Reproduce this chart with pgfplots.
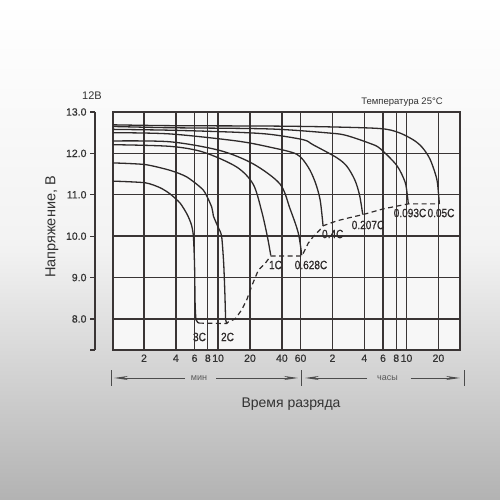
\documentclass[border=0pt]{standalone}
\usepackage{pgfplots}
\pgfplotsset{compat=1.18}
\usepackage{fontspec}
\setmainfont{Liberation Sans}
\newfontfamily\narrow[FakeStretch=0.84, FakeBold=0.7]{Liberation Sans}
\newfontfamily\tickf[FakeBold=0.5]{Liberation Sans}
\usetikzlibrary{arrows.meta}
\definecolor{ink}{HTML}{2E2A2A}
\definecolor{gridc}{HTML}{3A3535}
\definecolor{txt}{HTML}{333333}
\begin{document}
\begin{tikzpicture}[x=1pt,y=1pt]
\useasboundingbox (0,0) rectangle (500,500);
\shade[top color=white, bottom color=black!30, middle color=black!5] (0,0) rectangle (500,500);
% main axis
\begin{axis}[
  at={(113pt,150pt)}, anchor=south west, scale only axis,
  width=347pt, height=238pt,
  xmode=log, log basis x=10,
  xmin=1.02, xmax=1919, ymin=7.25, ymax=13,
  xtick={2,4,6,8,10,20,40,60,120,240,360,480,600,1200},
  xticklabels={2,4,6,8,10,20,40,60,2,4,6,8,10,20},
  ytick={8,9,10,11,12,13}, yticklabels={},
  minor xtick={}, minor ytick={},
  grid=major,
  major grid style={gridc, line width=1.4pt},
  axis line style={gridc, line width=1.4pt},
  tick style={draw=none},
  /pgf/number format/assume math mode=true,
  x tick label style={font=\tickf\fontsize{10.5}{12}\selectfont, text=txt, yshift=-1pt},
  axis background/.style={fill=black!3},
  clip=false,
]
% 0.05C
\addplot[ink, line width=1.3pt, smooth, tension=0.5] coordinates {
(1.02,12.69)(3.53,12.67)(30.9,12.66)(114,12.64)(337,12.60)(499,12.51)(692,12.33)(841,12.15)(1000,11.86)(1156,11.39)(1205,11.0)(1225,10.78)};
% 0.093C
\addplot[ink, line width=1.3pt, smooth, tension=0.5] coordinates {
(1.02,12.65)(3.53,12.62)(30.9,12.59)(114,12.49)(164,12.43)(272,12.24)(337,12.12)(485,11.71)(581,11.31)(610,11.0)(624,10.78)};
% 0.207C
\addplot[ink, line width=1.3pt, smooth, tension=0.5] coordinates {
(1.02,12.58)(3.53,12.56)(15,12.51)(30.9,12.46)(63.7,12.33)(78.6,12.21)(131,11.90)(164,11.69)(195,11.36)(216,11.0)(232,10.52)};
% 0.4C
\addplot[ink, line width=1.3pt, smooth, tension=0.5] coordinates {
(1.02,12.50)(3.53,12.47)(15,12.30)(30.9,12.15)(55.2,11.98)(70.8,11.67)(82.4,11.31)(91.8,10.88)(97.9,10.25)};
% 0.628C
\addplot[ink, line width=1.3pt, smooth, tension=0.5] coordinates {
(1.02,12.30)(3.53,12.28)(10.4,12.07)(21.5,11.745)(38.4,11.26)(47.8,10.66)(57.1,10.08)(61.6,9.54)};
% 1C
\addplot[ink, line width=1.3pt, smooth, tension=0.5] coordinates {
(1.02,12.21)(3.53,12.17)(7.27,12.03)(15,11.67)(21.5,11.25)(25.8,10.6)(29.2,9.99)(31.4,9.54)};
% 2C
\addplot[ink, line width=1.3pt, smooth, tension=0.4] coordinates {
(1.02,11.77)(2.05,11.73)(3.53,11.59)(5.07,11.43)(7.27,11.11)(8.72,10.7)(9.03,10.49)(10.0,10.22)(10.8,10.0)(11.3,9.34)(11.6,8.6)(11.8,7.98)(12.1,7.91)};
% 3C
\addplot[ink, line width=1.3pt, smooth, tension=0.4] coordinates {
(1.02,11.33)(2.05,11.29)(2.84,11.17)(3.53,11.02)(4.38,10.8)(5.1,10.53)(5.6,10.28)(5.85,10.0)(6.0,9.3)(6.07,8.4)(6.2,7.98)(6.6,7.9)};
% end-of-discharge line
\addplot[ink, line width=1.2pt, dash pattern=on 5pt off 3.5pt] coordinates {
(6.6,7.9)(12.1,7.89)(12.5,7.93)(14.5,8.0)(16.7,8.22)(18.7,8.47)(20.8,8.8)(24.0,9.18)(27.8,9.34)(31.4,9.52)(61.6,9.52)(63.8,9.59)(70.9,9.83)(79.1,9.99)(91.8,10.16)(97.9,10.25)(132,10.37)(176,10.45)(232,10.52)(362,10.66)(624,10.78)(1225,10.78)};
\end{axis}
% separate y axis
\begin{axis}[
  at={(95pt,150pt)}, anchor=south west, scale only axis,
  width=1pt, height=238pt,
  xmin=0, xmax=1, ymin=7.25, ymax=13,
  axis x line=none, axis y line*=left,
  ytick={8,9,10,11,12,13},
  yticklabels={8.0,9.0,10.0,11.0,12.0,13.0},
  extra y ticks={7.25}, extra y tick labels={},
  tick align=outside, major tick length=5pt,
  axis line style={gridc, line width=1.3pt},
  tick style={gridc, line width=1.3pt},
  y tick label style={font=\tickf\fontsize{10.5}{12}\selectfont, text=txt},
  /pgf/number format/assume math mode=true,
]
\addplot[draw=none] coordinates {(0,8)};
\end{axis}
% curve labels
\begin{scope}[every node/.style={font=\narrow\fontsize{12}{14}\selectfont, text=ink, inner sep=0pt}]
\node at (199.5,163) {3C};
\node at (227.5,163) {2C};
\node at (275.5,235) {1C};
\node at (311,235) {0.628C};
\node at (332.7,266) {0.4C};
\node at (368,275) {0.207C};
\node at (410,287) {0.093C};
\node at (441,287) {0.05C};
\end{scope}
\node[font=\fontsize{9.5}{11}\selectfont, text=txt] at (402,398) {Температура 25°C};
\node[font=\fontsize{11}{13}\selectfont, text=txt] at (92,404) {12В};
\node[font=\fontsize{14}{16}\selectfont, text=txt] at (291,96) {Время разряда};
\node[font=\fontsize{14.5}{16}\selectfont, text=txt, rotate=90] at (52,273) {Напряжение, В};
% time-range brackets
\begin{scope}[draw=black!70, line width=0.9pt]
\draw (111.7,114) -- (111.7,130);
\draw (301.7,114) -- (301.7,130);
\draw (464.3,114) -- (464.3,130);
\draw[-{Stealth[length=14pt,width=4pt]}] (185,122) -- (114,122);
\draw[-{Stealth[length=14pt,width=4pt]}] (216,122) -- (298,122);
\draw[-{Stealth[length=14pt,width=4pt]}] (367,122) -- (305,122);
\draw[-{Stealth[length=14pt,width=4pt]}] (410.7,122) -- (460,122);
\end{scope}
\node[font=\fontsize{9}{11}\selectfont, text=black!65] at (199,122) {мин};
\node[font=\fontsize{9}{11}\selectfont, text=black!65] at (387.5,122) {часы};
\end{tikzpicture}
\end{document}
